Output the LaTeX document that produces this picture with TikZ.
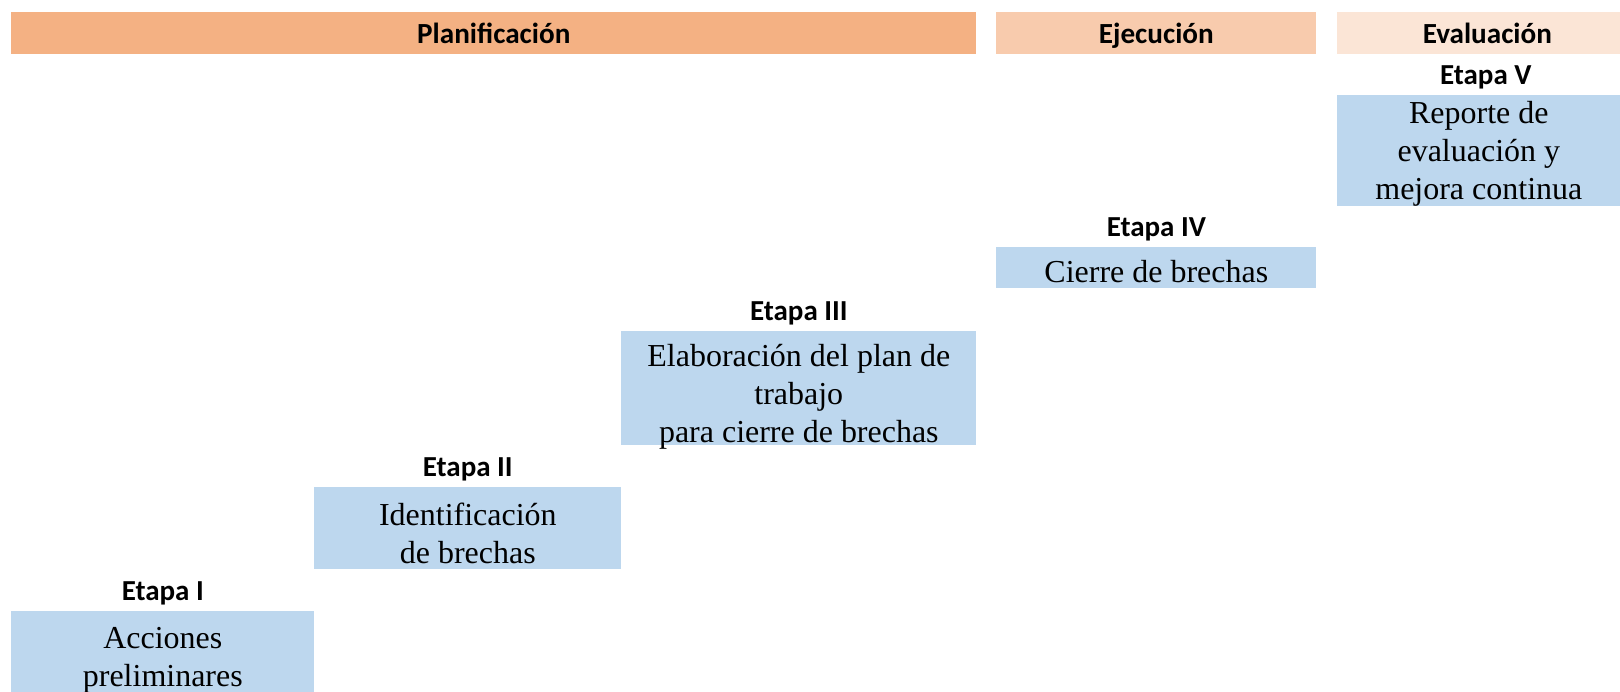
\documentclass[tikz,border=0pt]{standalone}
\usepackage{fontspec}
\setmainfont{Liberation Serif}
\newfontfamily\calibri{Carlito}
\usepackage{xcolor}
\usetikzlibrary{positioning}

\definecolor{naranja1}{HTML}{F4B183}
\definecolor{naranja2}{HTML}{F8CBAD}
\definecolor{naranja3}{HTML}{FBE5D6}
\definecolor{azulcaja}{HTML}{BDD7EE}

\tikzset{
  fase/.style={anchor=north west, inner sep=0pt, minimum height=0.84cm,
    text height=12pt, text depth=0pt,
    font=\calibri\bfseries\fontsize{16.6}{19}\selectfont},
  caja/.style={anchor=north west, inner sep=0pt, fill=azulcaja},
  texto/.style={inner sep=0pt, align=center, font=\fontsize{18.2}{21.6}\selectfont},
  etapa/.style={inner sep=0pt, font=\calibri\bfseries\fontsize{16.5}{19}\selectfont}
}

\begin{document}
\begin{tikzpicture}[x=0.02cm, y=-0.02cm]
      \useasboundingbox (0,0) rectangle (1620,692);
      \clip (0,0) rectangle (1620,692);

      % fases
      \node[fase, fill=naranja1, minimum width=19.3cm] (plan) at (11,12) {Planificación};
      \node[fase, fill=naranja2, minimum width=6.4cm] (ejec) at (996,12) {Ejecución};
      \node[fase, fill=naranja3, minimum width=6.0cm] (eval) at (1337,12) {Evaluación};

      % etapas
      \node[caja, minimum width=6.06cm, minimum height=1.64cm] (b1) at (11,611) {};
      \node[caja, minimum width=6.14cm, minimum height=1.64cm] (b2) at (314,487) {};
      \node[caja, minimum width=7.1cm, minimum height=2.28cm] (b3) at (621,331) {};
      \node[caja, minimum width=6.4cm, minimum height=0.82cm] (b4) at (996,247) {};
      \node[caja, minimum width=5.66cm, minimum height=2.22cm] (b5) at (1337,95) {};

      \node[texto, yshift=-0.16cm] (t1) at (b1.center) {Acciones\\preliminares};
      \node[texto, yshift=-0.1cm] (t2) at (b2.center) {Identificación\\de brechas};
      \node[texto, yshift=-0.17cm] (t3) at (b3.center) {Elaboración del plan de\\trabajo\\para cierre de brechas};
      \node[texto, yshift=-0.08cm] (t4) at (b4.center) {Cierre de brechas};
      \node[texto, yshift=-0.06cm] (t5) at (b5.center) {Reporte de\\evaluación y\\mejora continua};

      \node[etapa, above=3pt of b1] (e1) {Etapa I};
      \node[etapa, above=3pt of b2] (e2) {Etapa II};
      \node[etapa, above=3pt of b3] (e3) {Etapa III};
      \node[etapa, above=3pt of b4] (e4) {Etapa IV};
      \node[etapa, above=3pt of b5, xshift=0.14cm] (e5) {Etapa V};
\end{tikzpicture}
\end{document}
